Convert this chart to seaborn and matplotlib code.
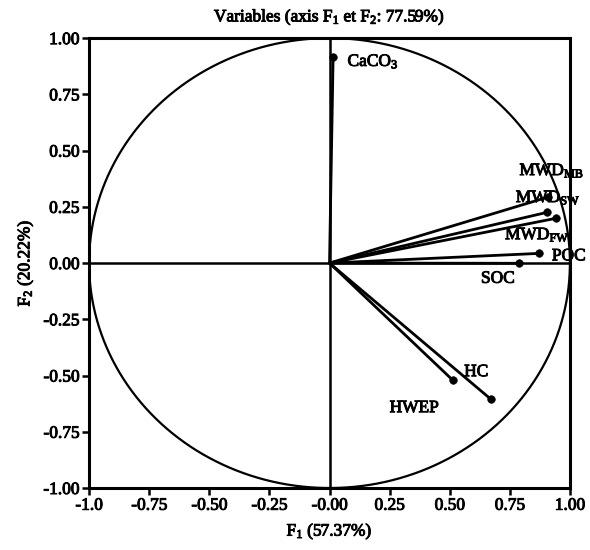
import numpy as np
import pandas as pd
import matplotlib
matplotlib.use("Agg")
import matplotlib.pyplot as plt
import matplotlib.patheffects as pe
import seaborn as sns

variables = ["CaCO3", "MWD_MB", "MWD_SW", "MWD_FW", "POC", "SOC", "HC", "HWEP"]
f1 = [0.015, 0.908, 0.903, 0.942, 0.871, 0.788, 0.672, 0.512]
f2 = [0.915, 0.293, 0.225, 0.199, 0.043, -0.001, -0.606, -0.520]
labels = [r"CaCO$_\mathregular{3}$", r"MWD$_\mathregular{MB}$", r"MWD$_\mathregular{SW}$",
          r"MWD$_\mathregular{FW}$", "POC", "SOC", "HC", "HWEP"]
label_pos = [(0.075, 0.895), (0.79, 0.41), (0.775, 0.29), (0.73, 0.125),
             (0.925, 0.03), (0.63, -0.07), (0.56, -0.485), (0.25, -0.645)]
xticks = [-1.0, -0.75, -0.5, -0.25, 0.0, 0.25, 0.5, 0.75, 1.0]
xticklabels = ["-1.0", "-0.75", "-0.50", "-0.25", "-0.00", "0.25", "0.50", "0.75", "1.00"]
yticks = [1.0, 0.75, 0.5, 0.25, 0.0, -0.25, -0.5, -0.75, -1.0]
yticklabels = ["1.00", "0.75", "0.50", "0.25", "0.00", "-0.25", "-0.50", "-0.75", "-1.00"]

sns.set_theme(style="white")
plt.rcParams["font.family"] = ["Liberation Serif", "DejaVu Serif"]
plt.rcParams["mathtext.fontset"] = "custom"
plt.rcParams["mathtext.rm"] = "Liberation Serif"
plt.rcParams["mathtext.default"] = "regular"

FS = 12.5
heavy = [pe.withStroke(linewidth=0.7, foreground="black")]

fig = plt.figure(figsize=(5.9, 5.5), dpi=100)
ax = fig.add_axes([0.151, 0.1127, 0.815, 0.818])

# vectors from origin
rows = []
for v, x, y in zip(variables, f1, f2):
    rows.append({"var": v, "x": 0.0, "y": 0.0})
    rows.append({"var": v, "x": x, "y": y})
vec = pd.DataFrame(rows)
sns.lineplot(data=vec, x="x", y="y", units="var", estimator=None, sort=False,
             color="black", lw=2.0, ax=ax, legend=False)
pts = pd.DataFrame({"var": variables, "x": f1, "y": f2})
sns.scatterplot(data=pts, x="x", y="y", color="black", s=30, edgecolor="black",
                ax=ax, legend=False, zorder=5)

# correlation circle
t = np.linspace(0, 2 * np.pi, 400)
ax.plot(np.cos(t), np.sin(t), color="black", lw=1.6)
ax.axhline(0, color="black", lw=1.8)
ax.axvline(0, color="black", lw=1.8)

for lab, (lx, ly) in zip(labels, label_pos):
    ax.text(lx, ly, lab, fontsize=FS, ha="left", va="center", color="black",
            path_effects=heavy)

ax.set_xlim(-1, 1)
ax.set_ylim(-1, 1)
ax.set_xticks(xticks)
ax.set_xticklabels(xticklabels, path_effects=heavy)
ax.set_yticks(yticks)
ax.set_yticklabels(yticklabels, path_effects=heavy)
ax.tick_params(axis="both", direction="out", length=5, width=1.8, labelsize=FS,
               colors="black", bottom=True, left=True, pad=2)
for s in ax.spines.values():
    s.set_linewidth(2.2)
    s.set_color("black")
ax.set_xlabel(r"F$_\mathregular{1}$ (57.37%)", fontsize=FS, color="black",
              labelpad=6, path_effects=heavy)
ax.set_ylabel(r"F$_\mathregular{2}$ (20.22%)", fontsize=FS, color="black",
              labelpad=6, path_effects=heavy)
ax.set_title(r"Variables (axis F$_\mathregular{1}$ et F$_\mathregular{2}$: 77.59%)",
             fontsize=FS, color="black", pad=12, path_effects=heavy)

fig.savefig("out.png", dpi=100)
